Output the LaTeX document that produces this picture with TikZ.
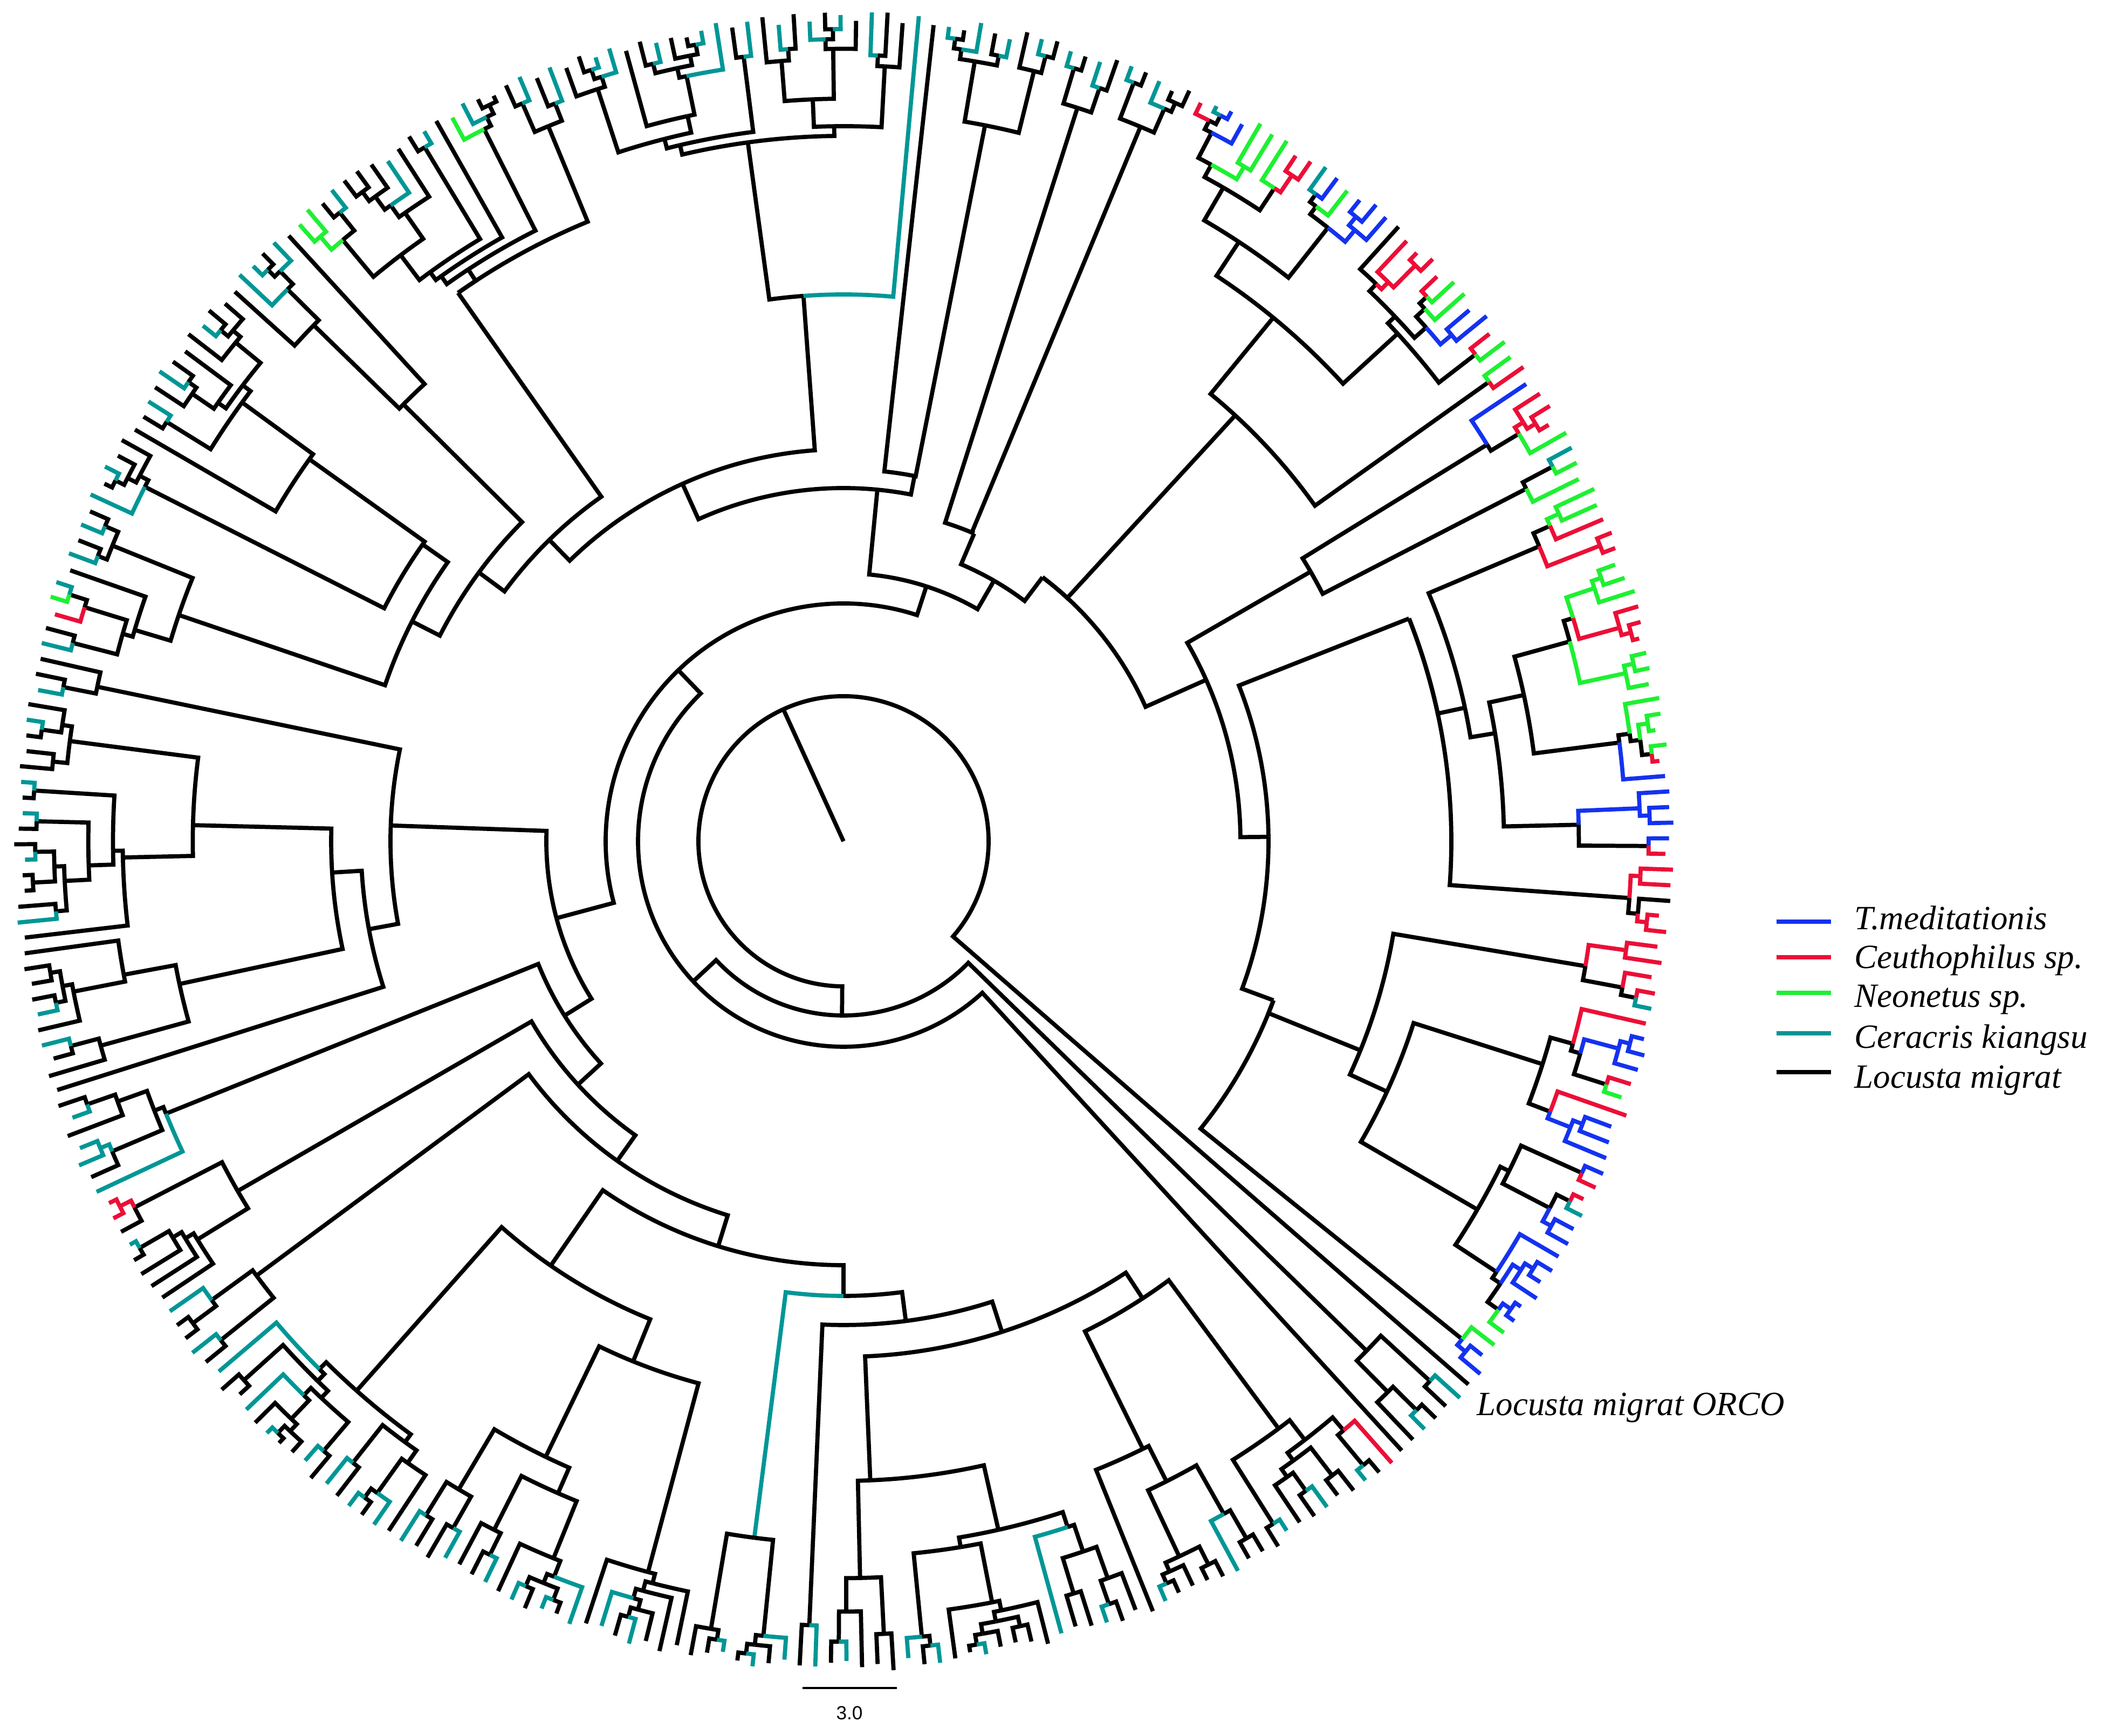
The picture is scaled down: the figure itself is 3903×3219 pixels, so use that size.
\documentclass[tikz,border=0pt]{standalone}
\usepackage{tikz}
\usepackage{fontspec}
\setmainfont{Liberation Serif}
\newfontfamily\sbarfont{Liberation Sans}
\definecolor{cK}{RGB}{0,0,0}
\definecolor{cT}{RGB}{0,150,150}
\definecolor{cB}{RGB}{20,50,240}
\definecolor{cR}{RGB}{235,15,55}
\definecolor{cG}{RGB}{30,240,50}

% ---- tip colours, in angular order starting at the ORCO tip ----
\newcount\tipn
\newcount\jj
\def\readcol#1{\ifx#1\relax\else
  \expandafter\def\csname tc\the\tipn\endcsname{#1}%
  \advance\tipn by 1
  \expandafter\readcol\fi}
\tipn=0
\readcol K TKKTK K
 RKTKK TKKTK KKTKK KK
 TKKKT KKTKK KKTKK TKTKK KTKTK TKTKT KKK
 KKTKT KTKTK TKTKK TKKTK TKTKT KTKKT KTKKT KTKKT KKKKT KRRTK T
 TKTKK KKTKT KKKKK TKKKT KKTKT KKKTK TK
 KTKRG TKTKT KTKTK KKKTK TKKKT KKKTT KTKGG KTKKK TKKTK GTKKK TK
 TKKTT KKTKK TTKTK TKTKT KTKKT KTKTK TKTKT KTKTK TK
 K
 RTBBGGGRRT BGBBBKRRRR GGBBRGGRBR RRGTGGGGRR RGGGRRRGGG
 GGGGRBBBBB RRRKRRRRRR TRBBBRGRBB BBRRTBBBBB BBBGGBB
 \relax
% run ends (last index of same-coloured run)
\jj=\numexpr\tipn-1\relax
\expandafter\edef\csname re\the\jj\endcsname{\the\jj}
\advance\jj by -1
\loop
  \edef\tmpa{\csname tc\the\jj\endcsname}%
  \edef\tmpb{\csname tc\the\numexpr\jj+1\relax\endcsname}%
  \ifx\tmpa\tmpb
    \expandafter\edef\csname re\the\jj\endcsname{\csname re\the\numexpr\jj+1\relax\endcsname}%
  \else
    \expandafter\edef\csname re\the\jj\endcsname{\the\jj}%
  \fi
  \advance\jj by -1
\ifnum\jj>-1
\repeat

\pgfmathsetmacro\dth{360/\the\tipn}
\def\Rt{1540}
\def\thz{41}

% branch: colour, parent radius, parent angle, child angle, child radius (image angles, clockwise)
\newcommand\br[5]{%
  \pgfmathsetmacro\bra{-(#3)}%
  \pgfmathsetmacro\brb{-(#4)}%
  \draw[branch,color=#1] (\bra:#2) arc[start angle=\bra,end angle=\brb,radius=#2] -- (\brb:#5);}

\newcommand\sub[4]{%
  \ifnum#1<#2\relax
  \begingroup
    \pgfmathtruncatemacro\ssp{#1+floor(rnd*(#2-#1))}%
    \pgfmathtruncatemacro\sspp{\ssp+1}%
    \edef\next{\noexpand\child{#1}{\ssp}{#3}{#4}\noexpand\child{\sspp}{#2}{#3}{#4}}%
    \next
  \endgroup
  \fi}

\newcommand\child[4]{%
  \begingroup
  \pgfmathsetmacro\cang{\thz+\dth*(#1+#2)/2}%
  \pgfmathtruncatemacro\cn{#2-#1+1}%
  \ifnum\csname re#1\endcsname<#2\relax\def\ccol{cK}\else\edef\ccol{c\csname tc#1\endcsname}\fi
  \ifnum\cn=1\relax
    \pgfmathsetmacro\crad{max(#3+12,\Rt-22*rnd)}%
  \else
    \pgfmathsetmacro\crad{max(#3+18,min(\Rt-30,\Rt-34*pow(\cn,0.8)*(0.55+0.9*rnd)))}%
  \fi
  \br{\ccol}{#3}{#4}{\cang}{\crad}%
  \ifnum\cn>1\relax
    \edef\next{\noexpand\sub{#1}{#2}{\crad}{\cang}}\next
  \fi
  \endgroup}

\begin{document}
\begin{tikzpicture}[x=0.01cm,y=0.01cm,
  branch/.style={line width=2.2pt,line cap=butt,line join=miter},
  legline/.style={line width=2.2pt},
  leg/.style={anchor=base west,inner sep=0pt,font=\fontsize{17.9}{21}\selectfont\itshape}]
\useasboundingbox (0,0) rectangle (3903,3219);
\pgfmathsetseed{4242}
\begin{scope}[shift={(1564,1659)}]
  % root
  \draw[branch] (0,0) -- (-245.5:269);
  \br{cK}{269}{245.5}{401}{1535}        % Locusta migrat ORCO
  \br{cK}{269}{245.5}{90.5}{323}        % B
  % B
  \br{cK}{323}{90.5}{44.25}{1354}\sub{1}{5}{1354}{44.25}
  \br{cK}{323}{90.5}{137}{381}          % D
  % D
  \child{6}{6}{381}{137}
  \br{cK}{381}{137}{226}{441}           % E
  % E
  \br{cK}{441}{226}{165}{551}           % G
  \br{cK}{441}{226}{288}{497}           % F2
  % G
  \br{cK}{551}{165}{148}{610}           % G1
  \br{cK}{551}{165}{182}{840}           % G2
  % G1
  \br{cK}{610}{148}{158.1}{1354}\sub{105}{111}{1354}{158.1}
  \br{cK}{610}{148}{137.5}{668}         % G1a
  \br{cK}{668}{137.5}{150}{1297}\sub{97}{104}{1297}{150}
  \br{cK}{668}{137.5}{125.3}{726}       % X
  \br{cK}{726}{125.3}{143.5}{1354}\sub{92}{96}{1354}{143.5}
  \br{cK}{726}{125.3}{107.2}{786}       % X1
  \br{cK}{786}{107.2}{124.6}{956}\sub{56}{91}{956}{124.6}
  \br{cK}{786}{107.2}{90}{843}          % X1a
  \br{cT}{843}{90}{97.3}{1302}\sub{49}{55}{1302}{97.3}
  \br{cK}{843}{90}{82.6}{897}           % N897
  \br{cK}{897}{82.6}{92.5}{1455}\sub{47}{48}{1455}{92.5}
  \br{cK}{897}{82.6}{72.1}{956}         % N956
  \br{cK}{956}{72.1}{56.8}{1013}\sub{7}{25}{1013}{56.8}
  \br{cK}{956}{72.1}{87.6}{1186}\sub{26}{46}{1186}{87.6}
  % G2
  \br{cK}{840}{182}{191.7}{1413}\sub{138}{140}{1413}{191.7}
  \br{cK}{840}{182}{169.5}{895}         % G2a
  \child{112}{112}{895}{169.5}
  \br{cK}{895}{169.5}{176.5}{950}\sub{113}{137}{950}{176.5}
  % F2
  \br{cK}{497}{288}{275.5}{655}         % F2a
  \br{cK}{497}{288}{300}{558}           % F2b
  % F2a
  \br{cK}{655}{275.5}{245.75}{727}      % N727
  \br{cK}{655}{275.5}{281}{690}\sub{217}{225}{690}{281}
  \br{cK}{727}{245.75}{225.7}{781}      % N781
  \br{cK}{727}{245.75}{265.8}{1014}\sub{193}{216}{1014}{265.8}
  \br{cK}{781}{225.7}{216.4}{840}       % UL0
  \br{cK}{781}{225.7}{234.9}{1243}\sub{173}{192}{1243}{234.9}
  \br{cK}{840}{216.4}{207}{898}         % N898
  \br{cK}{840}{216.4}{224.8}{1150}\sub{167}{172}{1150}{224.8}
  \br{cK}{898}{207}{198.8}{1302}\sub{141}{150}{1302}{198.8}
  \br{cK}{898}{207}{215.2}{955}\sub{151}{166}{955}{215.2}
  % F2b
  \br{cK}{558}{300}{293}{620}\sub{226}{234}{620}{293}
  \br{cK}{558}{300}{307}{613}           % F2b2
  \br{cK}{613}{307}{312.6}{1073}\sub{235}{262}{1073}{312.6}
  \br{cK}{613}{307}{336}{736}           % R
  \br{cK}{736}{336}{330}{1000}\sub{263}{270}{1000}{330}
  \br{cK}{736}{336}{359.4}{788}         % Q
  \br{cK}{788}{359.4}{338.5}{1127}\sub{271}{300}{1127}{338.5}
  \br{cK}{788}{359.4}{380.3}{850}\sub{301}{331}{850}{380.3}
\end{scope}

% label of the outgroup
\node[leg] (orco) at (2738,594) {Locusta migrat ORCO};

% legend
\draw[legline,cB] (3294,1510) -- (3395,1510);
\node[leg] (lg1) at (3438,1495) {T.meditationis};
\draw[legline,cR] (3294,1444) -- (3395,1444);
\node[leg] (lg2) at (3438,1423) {Ceuthophilus sp.};
\draw[legline,cG] (3294,1378) -- (3395,1378);
\node[leg] (lg3) at (3438,1351) {Neonetus sp.};
\draw[legline,cT] (3294,1303) -- (3395,1303);
\node[leg] (lg4) at (3438,1275) {Ceracris kiangsu};
\draw[legline,cK] (3294,1231) -- (3395,1231);
\node[leg] (lg5) at (3438,1201) {Locusta migrat};

% scale bar
\draw[line width=1.1pt] (1488,89) -- (1663,89);
\node[inner sep=0pt,font=\sbarfont\fontsize{10}{12}\selectfont] (sc) at (1575,43) {3.0};
\end{tikzpicture}
\end{document}
